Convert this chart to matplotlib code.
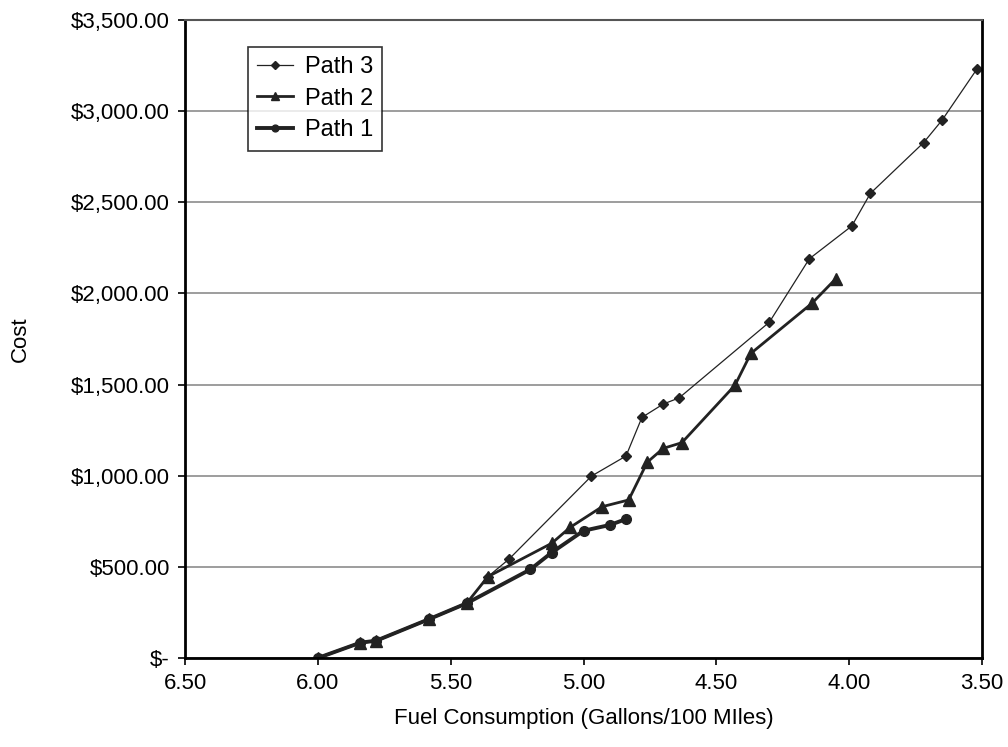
import matplotlib.pyplot as plt

plt.rcParams['font.family'] = ['Liberation Sans', 'DejaVu Sans']

# Fuel consumption (gallons/100 miles) and cost for each path
path1_x = [6.00, 5.84, 5.78, 5.58, 5.44, 5.20, 5.12, 5.00, 4.90, 4.84]
path1_y = [0, 84, 95, 214, 300, 486, 578, 698, 730, 762]

path2_x = [6.00, 5.84, 5.78, 5.58, 5.44, 5.36, 5.12, 5.05, 4.93, 4.83, 4.76,
           4.70, 4.63, 4.43, 4.37, 4.14, 4.05]
path2_y = [0, 84, 95, 214, 300, 446, 629, 717, 830, 867, 1074,
           1150, 1181, 1496, 1671, 1946, 2081]

path3_x = [6.00, 5.84, 5.78, 5.58, 5.44, 5.36, 5.28, 4.97, 4.84, 4.78, 4.70,
           4.64, 4.30, 4.15, 3.99, 3.92, 3.72, 3.65, 3.52]
path3_y = [0, 84, 95, 214, 300, 446, 543, 998, 1108, 1320, 1393,
           1427, 1843, 2190, 2370, 2549, 2827, 2951, 3229]

x_ticks = [6.50, 6.00, 5.50, 5.00, 4.50, 4.00, 3.50]
y_ticks = [0, 500, 1000, 1500, 2000, 2500, 3000, 3500]
y_labels = ['$-', '$500.00', '$1,000.00', '$1,500.00', '$2,000.00',
            '$2,500.00', '$3,000.00', '$3,500.00']

fig = plt.figure(figsize=(10.08, 7.47), dpi=100)
ax = fig.add_axes([185 / 1008, 1 - 658 / 747, 797 / 1008, 638 / 747])

mc = '#222222'
ax.plot(path3_x, path3_y, color=mc, lw=0.9, marker='D', ms=5.5, label='Path 3')
ax.plot(path2_x, path2_y, color=mc, lw=2.0, marker='^', ms=8, label='Path 2')
ax.plot(path1_x, path1_y, color=mc, lw=2.8, marker='o', ms=7, label='Path 1')

ax.set_xlim(6.5, 3.5)
ax.set_ylim(0, 3500)
ax.set_xticks(x_ticks)
ax.set_xticklabels([f'{v:.2f}' for v in x_ticks])
ax.set_yticks(y_ticks)
ax.set_yticklabels(y_labels)
ax.tick_params(labelsize=16, length=5, width=1.2, direction='out', pad=6)

ax.grid(axis='y', color='#8c8c8c', lw=1.2)
ax.set_axisbelow(True)
for side in ['left', 'bottom', 'right']:
    ax.spines[side].set_linewidth(2)
    ax.spines[side].set_color('black')
ax.spines['top'].set_linewidth(1.5)
ax.spines['top'].set_color('#555555')

ax.set_xlabel('Fuel Consumption (Gallons/100 MIles)', fontsize=16)
ax.xaxis.set_label_coords(0.5, -0.078)
ax.set_ylabel('Cost', fontsize=16)
ax.yaxis.set_label_coords(-0.193, 0.5)

leg = ax.legend(loc='upper left', bbox_to_anchor=(0.079, 0.958), fontsize=17,
                frameon=True, fancybox=False, edgecolor='black',
                borderaxespad=0, handlelength=1.5, handletextpad=0.5,
                borderpad=0.4, labelspacing=0.4, markerscale=0.7)
leg.get_frame().set_linewidth(1.2)

fig.savefig('out.png', dpi=100)
